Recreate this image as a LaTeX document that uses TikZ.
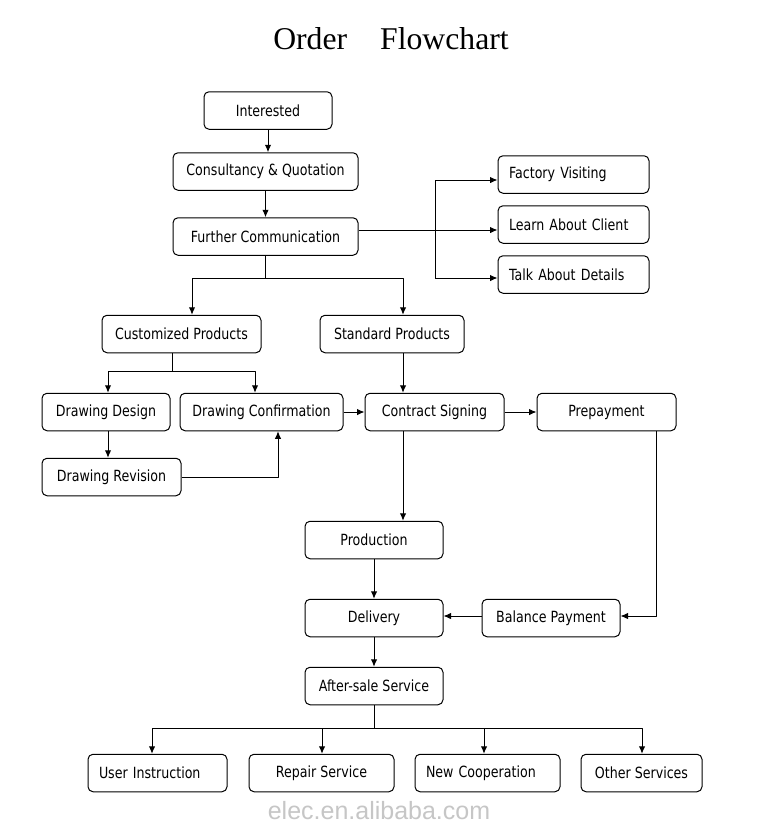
\documentclass[tikz,border=0pt]{standalone}
\usepackage{fontspec}
\usetikzlibrary{arrows.meta}
\newfontfamily\boxfont{DejaVu Sans}[FakeStretch=0.82]
\newfontfamily\titlefont{Liberation Serif}
\newfontfamily\markfont{Liberation Sans}

\tikzset{
  box/.style={draw, rounded corners=5pt, line width=1pt, inner xsep=0pt, inner ysep=0pt,
    minimum height=37.5pt, font=\boxfont\fontsize{15.4}{18}\selectfont},
  lbox/.style={box, inner xsep=11pt, text width=#1-22pt, align=left},
  arr/.style={line width=1pt, -{Latex[length=7.5pt,width=6.5pt]}},
  wire/.style={line width=1pt}
}

\begin{document}
\begin{tikzpicture}[x=1pt,y=-1pt,line join=round]
  \fill[white] (0,0) rectangle (757,830);
  \useasboundingbox (0,0) rectangle (757,830);

  % Title
  \node[font=\titlefont\fontsize{31.7}{36}\selectfont] (title) at (391,39) {Order\hspace{33pt}Flowchart};

  % Upper part
  \node[box, minimum width=128pt] (int) at (268,110.5) {Interested};
  \node[box, minimum width=185pt] (cq) at (265.5,171.5) {Consultancy \& Quotation};
  \node[box, minimum width=185pt] (fc) at (265.5,236.5) {Further Communication};
  \node[lbox=151pt] (fv) at (573.5,174.5) {Factory Visiting};
  \node[lbox=151pt] (lac) at (573.5,224.5) {Learn About Client};
  \node[lbox=151pt] (tad) at (573.5,274.5) {Talk About Details};

  % Products and drawings
  \node[box, minimum width=159pt] (cus) at (181.5,334) {Customized Products};
  \node[box, minimum width=144pt] (std) at (392,334) {Standard Products};
  \node[box, minimum width=128pt] (dd) at (106,412) {Drawing Design};
  \node[box, minimum width=163pt] (dc) at (261.5,412) {Drawing Confirmation};
  \node[box, minimum width=139pt] (cs) at (434.5,412) {Contract Signing};
  \node[box, minimum width=139pt] (pre) at (606.5,412) {Prepayment};
  \node[box, minimum width=139pt] (dr) at (111.5,477) {Drawing Revision};

  % Production and delivery
  \node[box, minimum width=138pt] (prod) at (374,540) {Production};
  \node[box, minimum width=138pt] (del) at (374,618) {Delivery};
  \node[box, minimum width=138pt] (bp) at (551,618) {Balance Payment};
  \node[box, minimum width=138pt] (as) at (374,686) {After-sale Service};

  % Services
  \node[lbox=139pt] (ui) at (157.5,773) {User Instruction};
  \node[box, minimum width=145pt] (rs) at (321.5,773) {Repair Service};
  \node[lbox=145pt] (nc) at (487.5,773) {New Cooperation};
  \node[box, minimum width=121pt] (os) at (641.5,773) {Other Services};

  % Watermark
  \node[font=\markfont\fontsize{25}{28}\selectfont, text=gray!45] (mark) at (379,811) {elec.en.alibaba.com};

  % Split points
  \coordinate (fcsplit) at (265.5,278);
  \coordinate (vtop) at (435,180);
  \coordinate (vbot) at (435,278);
  \coordinate (cussplit) at (172,371);
  \coordinate (assplit) at (374,728);

  % Connectors, top
  \draw[arr] (int.south) -- (int.south |- cq.north);
  \draw[arr] (cq.south) -- (cq.south |- fc.north);
  \draw[wire] (fc.south) -- (fcsplit);
  \draw[arr] (fcsplit) -| ([xshift=10.5pt]cus.north);
  \draw[arr] (fcsplit) -| ([xshift=11pt]std.north);
  \draw[arr] ([yshift=6.5pt]fc.east) -- ([yshift=6.5pt]fc.east -| lac.west);
  \draw[wire] (vtop) -- (vbot);
  \draw[arr] (vtop) -- (vtop -| fv.west);
  \draw[arr] (vbot) -- (vbot -| tad.west);

  % Connectors, middle
  \draw[wire] (cus.south -| cussplit) -- (cussplit);
  \draw[arr] (cussplit) -| ([xshift=2pt]dd.north);
  \draw[arr] (cussplit) -| ([xshift=-6.5pt]dc.north);
  \draw[arr] ([xshift=2pt]dd.south) -- ([xshift=2pt]dd.south |- dr.north);
  \draw[arr] (dr.east) -| ([xshift=16.5pt]dc.south);
  \draw[arr] (dc.east) -- (cs.west);
  \draw[arr] (cs.east) -- (pre.west);
  \draw[arr] ([xshift=11pt]std.south) -- ([xshift=11pt]std.south |- cs.north);
  \draw[arr] ([xshift=-31.5pt]cs.south) -- ([xshift=-31.5pt]cs.south |- prod.north);

  % Connectors, bottom
  \draw[arr] (prod.south) -- (del.north);
  \draw[arr] ([xshift=50pt]pre.south) |- ([yshift=2pt]bp.east);
  \draw[arr] ([yshift=2pt]bp.west) -- ([yshift=2pt]del.east);
  \draw[arr] (del.south) -- (as.north);
  \draw[wire] (as.south) -- (assplit);
  \foreach \n/\s in {ui/-5.5,rs/0.5,nc/-3.5,os/0.5}{
    \draw[arr] (assplit) -| ([xshift=\s pt]\n.north);
  }
\end{tikzpicture}
\end{document}
